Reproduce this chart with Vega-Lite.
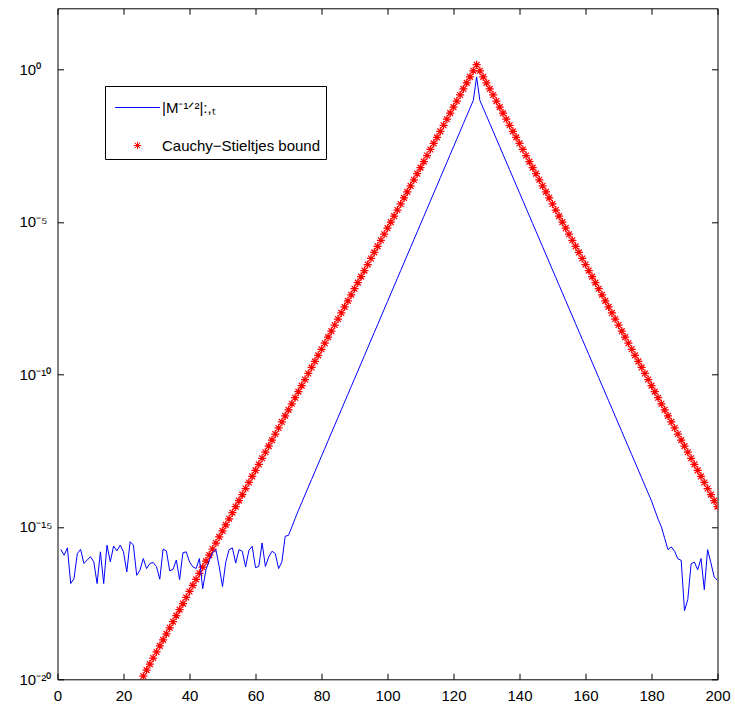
{
  "$schema": "https://vega.github.io/schema/vega-lite/v6.json",
  "width": 660,
  "height": 671,
  "autosize": {"type": "none"},
  "padding": {"left": 57.5, "top": 8.3, "right": 17.5, "bottom": 27.7},
  "config": {
    "view": {"stroke": null},
    "font": "Liberation Sans",
    "axis": {
      "domainColor": "black", "tickColor": "black", "domainWidth": 1, "tickWidth": 1,
      "grid": false, "labelFont": "Liberation Sans", "labelFontSize": 15, "labelColor": "black",
      "title": null, "tickSize": -6
    }
  },
  "datasets": {
    "matrix": [
      {"x":1,"y":1.82e-16},{"x":2,"y":1.17e-16},{"x":3,"y":2.04e-16},{"x":4,"y":1.38e-17},{"x":5,"y":2.0e-17},
      {"x":6,"y":1.32e-16},{"x":7,"y":1.82e-16},{"x":8,"y":6.31e-17},{"x":9,"y":8.13e-17},{"x":10,"y":1.05e-16},
      {"x":11,"y":7.08e-17},{"x":12,"y":1.38e-17},{"x":13,"y":1.51e-16},{"x":14,"y":1.38e-17},{"x":15,"y":2.51e-16},
      {"x":16,"y":7.08e-17},{"x":17,"y":2.34e-16},{"x":18,"y":1.62e-16},{"x":19,"y":2.51e-16},{"x":20,"y":1.51e-16},
      {"x":21,"y":3.31e-17},{"x":22,"y":3.24e-16},{"x":23,"y":2.51e-16},{"x":24,"y":2.57e-17},{"x":25,"y":3.80e-17},
      {"x":26,"y":9.12e-17},{"x":27,"y":4.27e-17},{"x":28,"y":6.31e-17},{"x":29,"y":6.76e-17},{"x":30,"y":4.90e-17},
      {"x":31,"y":1.91e-17},{"x":32,"y":1.86e-16},{"x":33,"y":1.62e-16},{"x":34,"y":3.63e-17},{"x":35,"y":3.98e-17},
      {"x":36,"y":8.13e-17},{"x":37,"y":1.86e-17},{"x":38,"y":1.41e-16},{"x":39,"y":1.51e-16},{"x":40,"y":7.08e-17},
      {"x":41,"y":4.90e-17},{"x":42,"y":4.27e-17},{"x":43,"y":9.12e-17},{"x":44,"y":9.33e-18},{"x":45,"y":3.98e-17},
      {"x":46,"y":7.94e-17},{"x":47,"y":1.41e-16},{"x":48,"y":1.78e-16},{"x":49,"y":5.01e-17},{"x":50,"y":1.10e-17},
      {"x":51,"y":7.08e-17},{"x":52,"y":1.78e-16},{"x":53,"y":2.04e-16},{"x":54,"y":6.46e-17},{"x":55,"y":1.78e-16},
      {"x":56,"y":1.58e-16},{"x":57,"y":4.79e-17},{"x":58,"y":1.70e-16},{"x":59,"y":2.29e-16},{"x":60,"y":4.57e-17},
      {"x":61,"y":5.01e-17},{"x":62,"y":2.95e-16},{"x":63,"y":5.01e-17},{"x":64,"y":1.02e-16},{"x":65,"y":1.58e-16},
      {"x":66,"y":1.32e-16},{"x":67,"y":4.27e-17},{"x":68,"y":7.08e-17},{"x":69,"y":4.90e-16},{"x":70,"y":5.25e-16},
      {"x":71,"y":9.77e-16},{"x":72,"y":1.86e-15},{"x":73,"y":3.47e-15},{"x":74,"y":6.22e-15},{"x":75,"y":1.11e-14},
      {"x":76,"y":2.00e-14},{"x":77,"y":3.58e-14},{"x":78,"y":6.43e-14},{"x":79,"y":1.15e-13},{"x":80,"y":2.07e-13},
      {"x":81,"y":3.71e-13},{"x":82,"y":6.64e-13},{"x":83,"y":1.19e-12},{"x":84,"y":2.14e-12},{"x":85,"y":3.83e-12},
      {"x":86,"y":6.87e-12},{"x":87,"y":1.23e-11},{"x":88,"y":2.21e-11},{"x":89,"y":3.96e-11},{"x":90,"y":7.10e-11},
      {"x":91,"y":1.27e-10},{"x":92,"y":2.28e-10},{"x":93,"y":4.09e-10},{"x":94,"y":7.35e-10},{"x":95,"y":1.32e-9},
      {"x":96,"y":2.36e-9},{"x":97,"y":4.23e-9},{"x":98,"y":7.59e-9},{"x":99,"y":1.36e-8},{"x":100,"y":2.44e-8},
      {"x":101,"y":4.38e-8},{"x":102,"y":7.83e-8},{"x":103,"y":1.41e-7},{"x":104,"y":2.52e-7},{"x":105,"y":4.52e-7},
      {"x":106,"y":8.11e-7},{"x":107,"y":1.45e-6},{"x":108,"y":2.61e-6},{"x":109,"y":4.68e-6},{"x":110,"y":8.38e-6},
      {"x":111,"y":1.50e-5},{"x":112,"y":2.69e-5},{"x":113,"y":4.83e-5},{"x":114,"y":8.67e-5},{"x":115,"y":1.55e-4},
      {"x":116,"y":2.79e-4},{"x":117,"y":4.99e-4},{"x":118,"y":8.95e-4},{"x":119,"y":1.61e-3},{"x":120,"y":2.88e-3},
      {"x":121,"y":5.16e-3},{"x":122,"y":9.25e-3},{"x":123,"y":1.66e-2},{"x":124,"y":2.98e-2},{"x":125,"y":5.33e-2},
      {"x":126,"y":9.55e-2},{"x":127,"y":0.562},{"x":128,"y":9.55e-2},{"x":129,"y":5.34e-2},{"x":130,"y":2.99e-2},
      {"x":131,"y":1.67e-2},{"x":132,"y":9.33e-3},{"x":133,"y":5.22e-3},{"x":134,"y":2.92e-3},{"x":135,"y":1.63e-3},
      {"x":136,"y":9.12e-4},{"x":137,"y":5.10e-4},{"x":138,"y":2.85e-4},{"x":139,"y":1.59e-4},{"x":140,"y":8.91e-5},
      {"x":141,"y":4.98e-5},{"x":142,"y":2.79e-5},{"x":143,"y":1.56e-5},{"x":144,"y":8.71e-6},{"x":145,"y":4.87e-6},
      {"x":146,"y":2.72e-6},{"x":147,"y":1.52e-6},{"x":148,"y":8.51e-7},{"x":149,"y":4.76e-7},{"x":150,"y":2.66e-7},
      {"x":151,"y":1.49e-7},{"x":152,"y":8.32e-8},{"x":153,"y":4.65e-8},{"x":154,"y":2.60e-8},{"x":155,"y":1.45e-8},
      {"x":156,"y":8.13e-9},{"x":157,"y":4.54e-9},{"x":158,"y":2.54e-9},{"x":159,"y":1.42e-9},{"x":160,"y":7.94e-10},
      {"x":161,"y":4.44e-10},{"x":162,"y":2.48e-10},{"x":163,"y":1.39e-10},{"x":164,"y":7.76e-11},{"x":165,"y":4.34e-11},
      {"x":166,"y":2.43e-11},{"x":167,"y":1.36e-11},{"x":168,"y":7.59e-12},{"x":169,"y":4.24e-12},{"x":170,"y":2.37e-12},
      {"x":171,"y":1.33e-12},{"x":172,"y":7.41e-13},{"x":173,"y":4.15e-13},{"x":174,"y":2.32e-13},{"x":175,"y":1.30e-13},
      {"x":176,"y":7.24e-14},{"x":177,"y":4.05e-14},{"x":178,"y":2.26e-14},{"x":179,"y":1.27e-14},{"x":180,"y":7.08e-15},
      {"x":181,"y":3.55e-15},{"x":182,"y":1.78e-15},{"x":183,"y":1.0e-15},{"x":184,"y":4.17e-16},{"x":185,"y":1.78e-16},
      {"x":186,"y":2.19e-16},{"x":187,"y":1.58e-16},{"x":188,"y":8.91e-17},{"x":189,"y":7.94e-17},{"x":190,"y":1.78e-18},
      {"x":191,"y":4.17e-18},{"x":192,"y":6.17e-17},{"x":193,"y":6.92e-17},{"x":194,"y":3.89e-17},{"x":195,"y":9.12e-17},
      {"x":196,"y":8.71e-18},{"x":197,"y":1.78e-16},{"x":198,"y":6.61e-17},{"x":199,"y":2.24e-17},{"x":200,"y":1.78e-17}
    ],
    "bound": [
      {"x":26,"y":1.263e-20,"series":"Cauchy−Stieltjes bound"},{"x":27,"y":1.995e-20,"series":"Cauchy−Stieltjes bound"},
      {"x":28,"y":3.15e-20,"series":"Cauchy−Stieltjes bound"},{"x":29,"y":4.98e-20,"series":"Cauchy−Stieltjes bound"},
      {"x":30,"y":7.86e-20,"series":"Cauchy−Stieltjes bound"},{"x":31,"y":1.242e-19,"series":"Cauchy−Stieltjes bound"},
      {"x":32,"y":1.961e-19,"series":"Cauchy−Stieltjes bound"},{"x":33,"y":3.10e-19,"series":"Cauchy−Stieltjes bound"},
      {"x":34,"y":4.89e-19,"series":"Cauchy−Stieltjes bound"},{"x":35,"y":7.73e-19,"series":"Cauchy−Stieltjes bound"},
      {"x":36,"y":1.220e-18,"series":"Cauchy−Stieltjes bound"},{"x":37,"y":1.928e-18,"series":"Cauchy−Stieltjes bound"},
      {"x":38,"y":3.04e-18,"series":"Cauchy−Stieltjes bound"},{"x":39,"y":4.81e-18,"series":"Cauchy−Stieltjes bound"},
      {"x":40,"y":7.59e-18,"series":"Cauchy−Stieltjes bound"},{"x":41,"y":1.199e-17,"series":"Cauchy−Stieltjes bound"},
      {"x":42,"y":1.895e-17,"series":"Cauchy−Stieltjes bound"},{"x":43,"y":2.99e-17,"series":"Cauchy−Stieltjes bound"},
      {"x":44,"y":4.73e-17,"series":"Cauchy−Stieltjes bound"},{"x":45,"y":7.46e-17,"series":"Cauchy−Stieltjes bound"},
      {"x":46,"y":1.179e-16,"series":"Cauchy−Stieltjes bound"},{"x":47,"y":1.862e-16,"series":"Cauchy−Stieltjes bound"},
      {"x":48,"y":2.94e-16,"series":"Cauchy−Stieltjes bound"},{"x":49,"y":4.65e-16,"series":"Cauchy−Stieltjes bound"},
      {"x":50,"y":7.34e-16,"series":"Cauchy−Stieltjes bound"},{"x":51,"y":1.159e-15,"series":"Cauchy−Stieltjes bound"},
      {"x":52,"y":1.830e-15,"series":"Cauchy−Stieltjes bound"},{"x":53,"y":2.89e-15,"series":"Cauchy−Stieltjes bound"},
      {"x":54,"y":4.57e-15,"series":"Cauchy−Stieltjes bound"},{"x":55,"y":7.21e-15,"series":"Cauchy−Stieltjes bound"},
      {"x":56,"y":1.139e-14,"series":"Cauchy−Stieltjes bound"},{"x":57,"y":1.799e-14,"series":"Cauchy−Stieltjes bound"},
      {"x":58,"y":2.84e-14,"series":"Cauchy−Stieltjes bound"},{"x":59,"y":4.49e-14,"series":"Cauchy−Stieltjes bound"},
      {"x":60,"y":7.09e-14,"series":"Cauchy−Stieltjes bound"},{"x":61,"y":1.119e-13,"series":"Cauchy−Stieltjes bound"},
      {"x":62,"y":1.768e-13,"series":"Cauchy−Stieltjes bound"},{"x":63,"y":2.79e-13,"series":"Cauchy−Stieltjes bound"},
      {"x":64,"y":4.41e-13,"series":"Cauchy−Stieltjes bound"},{"x":65,"y":6.97e-13,"series":"Cauchy−Stieltjes bound"},
      {"x":66,"y":1.100e-12,"series":"Cauchy−Stieltjes bound"},{"x":67,"y":1.738e-12,"series":"Cauchy−Stieltjes bound"},
      {"x":68,"y":2.74e-12,"series":"Cauchy−Stieltjes bound"},{"x":69,"y":4.34e-12,"series":"Cauchy−Stieltjes bound"},
      {"x":70,"y":6.85e-12,"series":"Cauchy−Stieltjes bound"},{"x":71,"y":1.081e-11,"series":"Cauchy−Stieltjes bound"},
      {"x":72,"y":1.708e-11,"series":"Cauchy−Stieltjes bound"},{"x":73,"y":2.70e-11,"series":"Cauchy−Stieltjes bound"},
      {"x":74,"y":4.26e-11,"series":"Cauchy−Stieltjes bound"},{"x":75,"y":6.73e-11,"series":"Cauchy−Stieltjes bound"},
      {"x":76,"y":1.063e-10,"series":"Cauchy−Stieltjes bound"},{"x":77,"y":1.679e-10,"series":"Cauchy−Stieltjes bound"},
      {"x":78,"y":2.65e-10,"series":"Cauchy−Stieltjes bound"},{"x":79,"y":4.19e-10,"series":"Cauchy−Stieltjes bound"},
      {"x":80,"y":6.62e-10,"series":"Cauchy−Stieltjes bound"},{"x":81,"y":1.045e-9,"series":"Cauchy−Stieltjes bound"},
      {"x":82,"y":1.650e-9,"series":"Cauchy−Stieltjes bound"},{"x":83,"y":2.61e-9,"series":"Cauchy−Stieltjes bound"},
      {"x":84,"y":4.12e-9,"series":"Cauchy−Stieltjes bound"},{"x":85,"y":6.50e-9,"series":"Cauchy−Stieltjes bound"},
      {"x":86,"y":1.027e-8,"series":"Cauchy−Stieltjes bound"},{"x":87,"y":1.622e-8,"series":"Cauchy−Stieltjes bound"},
      {"x":88,"y":2.56e-8,"series":"Cauchy−Stieltjes bound"},{"x":89,"y":4.05e-8,"series":"Cauchy−Stieltjes bound"},
      {"x":90,"y":6.39e-8,"series":"Cauchy−Stieltjes bound"},{"x":91,"y":1.009e-7,"series":"Cauchy−Stieltjes bound"},
      {"x":92,"y":1.594e-7,"series":"Cauchy−Stieltjes bound"},{"x":93,"y":2.52e-7,"series":"Cauchy−Stieltjes bound"},
      {"x":94,"y":3.98e-7,"series":"Cauchy−Stieltjes bound"},{"x":95,"y":6.28e-7,"series":"Cauchy−Stieltjes bound"},
      {"x":96,"y":9.92e-7,"series":"Cauchy−Stieltjes bound"},{"x":97,"y":1.567e-6,"series":"Cauchy−Stieltjes bound"},
      {"x":98,"y":2.48e-6,"series":"Cauchy−Stieltjes bound"},{"x":99,"y":3.91e-6,"series":"Cauchy−Stieltjes bound"},
      {"x":100,"y":6.17e-6,"series":"Cauchy−Stieltjes bound"},{"x":101,"y":9.75e-6,"series":"Cauchy−Stieltjes bound"},
      {"x":102,"y":1.540e-5,"series":"Cauchy−Stieltjes bound"},{"x":103,"y":2.43e-5,"series":"Cauchy−Stieltjes bound"},
      {"x":104,"y":3.84e-5,"series":"Cauchy−Stieltjes bound"},{"x":105,"y":6.07e-5,"series":"Cauchy−Stieltjes bound"},
      {"x":106,"y":9.58e-5,"series":"Cauchy−Stieltjes bound"},{"x":107,"y":1.514e-4,"series":"Cauchy−Stieltjes bound"},
      {"x":108,"y":2.39e-4,"series":"Cauchy−Stieltjes bound"},{"x":109,"y":3.78e-4,"series":"Cauchy−Stieltjes bound"},
      {"x":110,"y":5.96e-4,"series":"Cauchy−Stieltjes bound"},{"x":111,"y":9.42e-4,"series":"Cauchy−Stieltjes bound"},
      {"x":112,"y":1.487e-3,"series":"Cauchy−Stieltjes bound"},{"x":113,"y":2.35e-3,"series":"Cauchy−Stieltjes bound"},
      {"x":114,"y":3.71e-3,"series":"Cauchy−Stieltjes bound"},{"x":115,"y":5.86e-3,"series":"Cauchy−Stieltjes bound"},
      {"x":116,"y":9.25e-3,"series":"Cauchy−Stieltjes bound"},{"x":117,"y":1.462e-2,"series":"Cauchy−Stieltjes bound"},
      {"x":118,"y":2.309e-2,"series":"Cauchy−Stieltjes bound"},{"x":119,"y":3.646e-2,"series":"Cauchy−Stieltjes bound"},
      {"x":120,"y":5.76e-2,"series":"Cauchy−Stieltjes bound"},{"x":121,"y":9.10e-2,"series":"Cauchy−Stieltjes bound"},
      {"x":122,"y":0.1437,"series":"Cauchy−Stieltjes bound"},{"x":123,"y":0.227,"series":"Cauchy−Stieltjes bound"},
      {"x":124,"y":0.3585,"series":"Cauchy−Stieltjes bound"},{"x":125,"y":0.566,"series":"Cauchy−Stieltjes bound"},
      {"x":126,"y":0.894,"series":"Cauchy−Stieltjes bound"},{"x":127,"y":1.413,"series":"Cauchy−Stieltjes bound"},
      {"x":128,"y":0.894,"series":"Cauchy−Stieltjes bound"},{"x":129,"y":0.566,"series":"Cauchy−Stieltjes bound"},
      {"x":130,"y":0.3585,"series":"Cauchy−Stieltjes bound"},{"x":131,"y":0.227,"series":"Cauchy−Stieltjes bound"},
      {"x":132,"y":0.1437,"series":"Cauchy−Stieltjes bound"},{"x":133,"y":9.10e-2,"series":"Cauchy−Stieltjes bound"},
      {"x":134,"y":5.76e-2,"series":"Cauchy−Stieltjes bound"},{"x":135,"y":3.646e-2,"series":"Cauchy−Stieltjes bound"},
      {"x":136,"y":2.309e-2,"series":"Cauchy−Stieltjes bound"},{"x":137,"y":1.462e-2,"series":"Cauchy−Stieltjes bound"},
      {"x":138,"y":9.25e-3,"series":"Cauchy−Stieltjes bound"},{"x":139,"y":5.86e-3,"series":"Cauchy−Stieltjes bound"},
      {"x":140,"y":3.71e-3,"series":"Cauchy−Stieltjes bound"},{"x":141,"y":2.35e-3,"series":"Cauchy−Stieltjes bound"},
      {"x":142,"y":1.487e-3,"series":"Cauchy−Stieltjes bound"},{"x":143,"y":9.42e-4,"series":"Cauchy−Stieltjes bound"},
      {"x":144,"y":5.96e-4,"series":"Cauchy−Stieltjes bound"},{"x":145,"y":3.78e-4,"series":"Cauchy−Stieltjes bound"},
      {"x":146,"y":2.39e-4,"series":"Cauchy−Stieltjes bound"},{"x":147,"y":1.514e-4,"series":"Cauchy−Stieltjes bound"},
      {"x":148,"y":9.58e-5,"series":"Cauchy−Stieltjes bound"},{"x":149,"y":6.07e-5,"series":"Cauchy−Stieltjes bound"},
      {"x":150,"y":3.84e-5,"series":"Cauchy−Stieltjes bound"},{"x":151,"y":2.43e-5,"series":"Cauchy−Stieltjes bound"},
      {"x":152,"y":1.540e-5,"series":"Cauchy−Stieltjes bound"},{"x":153,"y":9.75e-6,"series":"Cauchy−Stieltjes bound"},
      {"x":154,"y":6.17e-6,"series":"Cauchy−Stieltjes bound"},{"x":155,"y":3.91e-6,"series":"Cauchy−Stieltjes bound"},
      {"x":156,"y":2.48e-6,"series":"Cauchy−Stieltjes bound"},{"x":157,"y":1.567e-6,"series":"Cauchy−Stieltjes bound"},
      {"x":158,"y":9.92e-7,"series":"Cauchy−Stieltjes bound"},{"x":159,"y":6.28e-7,"series":"Cauchy−Stieltjes bound"},
      {"x":160,"y":3.98e-7,"series":"Cauchy−Stieltjes bound"},{"x":161,"y":2.52e-7,"series":"Cauchy−Stieltjes bound"},
      {"x":162,"y":1.594e-7,"series":"Cauchy−Stieltjes bound"},{"x":163,"y":1.009e-7,"series":"Cauchy−Stieltjes bound"},
      {"x":164,"y":6.39e-8,"series":"Cauchy−Stieltjes bound"},{"x":165,"y":4.05e-8,"series":"Cauchy−Stieltjes bound"},
      {"x":166,"y":2.56e-8,"series":"Cauchy−Stieltjes bound"},{"x":167,"y":1.622e-8,"series":"Cauchy−Stieltjes bound"},
      {"x":168,"y":1.027e-8,"series":"Cauchy−Stieltjes bound"},{"x":169,"y":6.50e-9,"series":"Cauchy−Stieltjes bound"},
      {"x":170,"y":4.12e-9,"series":"Cauchy−Stieltjes bound"},{"x":171,"y":2.61e-9,"series":"Cauchy−Stieltjes bound"},
      {"x":172,"y":1.650e-9,"series":"Cauchy−Stieltjes bound"},{"x":173,"y":1.045e-9,"series":"Cauchy−Stieltjes bound"},
      {"x":174,"y":6.62e-10,"series":"Cauchy−Stieltjes bound"},{"x":175,"y":4.19e-10,"series":"Cauchy−Stieltjes bound"},
      {"x":176,"y":2.65e-10,"series":"Cauchy−Stieltjes bound"},{"x":177,"y":1.679e-10,"series":"Cauchy−Stieltjes bound"},
      {"x":178,"y":1.063e-10,"series":"Cauchy−Stieltjes bound"},{"x":179,"y":6.73e-11,"series":"Cauchy−Stieltjes bound"},
      {"x":180,"y":4.26e-11,"series":"Cauchy−Stieltjes bound"},{"x":181,"y":2.70e-11,"series":"Cauchy−Stieltjes bound"},
      {"x":182,"y":1.708e-11,"series":"Cauchy−Stieltjes bound"},{"x":183,"y":1.081e-11,"series":"Cauchy−Stieltjes bound"},
      {"x":184,"y":6.85e-12,"series":"Cauchy−Stieltjes bound"},{"x":185,"y":4.34e-12,"series":"Cauchy−Stieltjes bound"},
      {"x":186,"y":2.74e-12,"series":"Cauchy−Stieltjes bound"},{"x":187,"y":1.738e-12,"series":"Cauchy−Stieltjes bound"},
      {"x":188,"y":1.100e-12,"series":"Cauchy−Stieltjes bound"},{"x":189,"y":6.97e-13,"series":"Cauchy−Stieltjes bound"},
      {"x":190,"y":4.41e-13,"series":"Cauchy−Stieltjes bound"},{"x":191,"y":2.79e-13,"series":"Cauchy−Stieltjes bound"},
      {"x":192,"y":1.768e-13,"series":"Cauchy−Stieltjes bound"},{"x":193,"y":1.119e-13,"series":"Cauchy−Stieltjes bound"},
      {"x":194,"y":7.09e-14,"series":"Cauchy−Stieltjes bound"},{"x":195,"y":4.49e-14,"series":"Cauchy−Stieltjes bound"},
      {"x":196,"y":2.84e-14,"series":"Cauchy−Stieltjes bound"},{"x":197,"y":1.799e-14,"series":"Cauchy−Stieltjes bound"},
      {"x":198,"y":1.139e-14,"series":"Cauchy−Stieltjes bound"},{"x":199,"y":7.21e-15,"series":"Cauchy−Stieltjes bound"},
      {"x":200,"y":4.57e-15,"series":"Cauchy−Stieltjes bound"}
    ]
  },
  "layer": [
    {
      "data": {"name": "bound"},
      "mark": {"type": "point", "filled": false, "strokeWidth": 1.25, "size": 66, "opacity": 1, "clip": true},
      "encoding": {
        "x": {"field": "x", "type": "quantitative",
          "scale": {"domain": [0, 200], "nice": false, "zero": false},
          "axis": {"orient": "bottom", "values": [0,20,40,60,80,100,120,140,160,180,200], "labelPadding": 15, "labelFlush": false}},
        "y": {"field": "y", "type": "quantitative",
          "scale": {"type": "log", "domain": [1e-20, 100], "nice": false},
          "axis": {"orient": "left", "values": [1e-20, 1e-15, 1e-10, 1e-5, 1], "labelAlign": "left", "labelPadding": 44.5, "labelFlush": false,
            "labelExpr": "datum.value >= 0.5 ? '10⁰' : datum.value >= 5e-6 ? '10⁻⁵' : datum.value >= 5e-11 ? '10⁻¹⁰' : datum.value >= 5e-16 ? '10⁻¹⁵' : '10⁻²⁰'"}},
        "color": {"field": "series", "type": "nominal",
          "scale": {"domain": ["|M⁻¹ᐟ²|:,ₜ", "Cauchy−Stieltjes bound"], "range": ["#0000ff", "#ff0000"]},
          "legend": {"orient": "none", "legendX": 47.5, "legendY": 77.7, "title": " ", "titleFontSize": 4, "titlePadding": 5, "direction": "vertical",
            "padding": 5, "strokeColor": "black", "fillColor": "white", "labelFont": "Liberation Sans", "labelFontSize": 15,
            "labelColor": "black", "symbolOffset": 20, "labelOffset": 17, "rowPadding": 22, "symbolSize": 56,
            "symbolStrokeWidth": 1, "symbolOpacity": 1}},
        "shape": {"field": "series", "type": "nominal",
          "scale": {"domain": ["|M⁻¹ᐟ²|:,ₜ", "Cauchy−Stieltjes bound"], "range": ["M-6,0L6,0", "M-1,0L1,0M0,-1L0,1M-0.71,-0.71L0.71,0.71M-0.71,0.71L0.71,-0.71"]},
          "legend": {"orient": "none", "legendX": 47.5, "legendY": 77.7, "title": " ", "titleFontSize": 4, "titlePadding": 5, "direction": "vertical",
            "padding": 5, "strokeColor": "black", "fillColor": "white", "labelFont": "Liberation Sans", "labelFontSize": 15,
            "labelColor": "black", "symbolOffset": 20, "labelOffset": 17, "rowPadding": 22, "symbolSize": 56,
            "symbolStrokeWidth": 1, "symbolOpacity": 1}}
      }
    },
    {
      "data": {"name": "matrix"},
      "mark": {"type": "line", "color": "#0000ff", "strokeWidth": 1, "clip": true},
      "encoding": {
        "x": {"field": "x", "type": "quantitative",
          "scale": {"domain": [0, 200], "nice": false, "zero": false},
          "axis": {"orient": "top", "labels": false, "values": [0,20,40,60,80,100,120,140,160,180,200]}},
        "y": {"field": "y", "type": "quantitative",
          "scale": {"type": "log", "domain": [1e-20, 100], "nice": false},
          "axis": {"orient": "right", "labels": false, "values": [1e-20, 1e-15, 1e-10, 1e-5, 1]}}
      }
    }
  ],
  "resolve": {"axis": {"x": "independent", "y": "independent"}}
}
